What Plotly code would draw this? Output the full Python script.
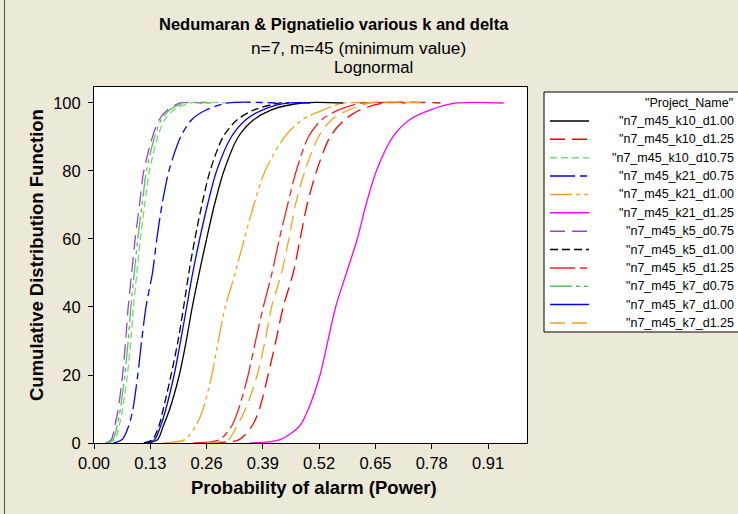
import plotly.graph_objects as go

# Cumulative percent levels at which each empirical CDF is sampled
# (the last two entries are where the curve first reaches 100 % and the sample maximum)
cdf_levels = [0, 1, 5, 10, 20, 30, 40, 50, 60, 70, 80, 90, 95, 98, 100, 100]

# Probability of alarm (power) at each cumulative level, one list per project
power_k10_d100 = [0.125, 0.147, 0.160, 0.175, 0.197, 0.213, 0.227, 0.243, 0.260, 0.278, 0.300, 0.333, 0.368, 0.410, 0.480, 0.576]
power_k10_d125 = [0.270, 0.335, 0.365, 0.382, 0.402, 0.420, 0.437, 0.460, 0.476, 0.492, 0.514, 0.545, 0.578, 0.615, 0.670, 0.800]
power_k10_d075 = [0.033, 0.048, 0.058, 0.066, 0.077, 0.085, 0.091, 0.099, 0.107, 0.117, 0.128, 0.147, 0.163, 0.185, 0.225, 0.307]
power_k21_d075 = [0.045, 0.065, 0.080, 0.090, 0.101, 0.110, 0.120, 0.135, 0.145, 0.157, 0.173, 0.200, 0.225, 0.260, 0.310, 0.420]
power_k21_d100 = [0.160, 0.210, 0.235, 0.252, 0.272, 0.287, 0.303, 0.326, 0.347, 0.369, 0.395, 0.440, 0.480, 0.530, 0.580, 0.640]
power_k21_d125 = [0.360, 0.430, 0.475, 0.495, 0.522, 0.540, 0.558, 0.583, 0.608, 0.628, 0.652, 0.690, 0.728, 0.777, 0.838, 0.946]
power_k5_d075 = [0.027, 0.040, 0.048, 0.056, 0.066, 0.073, 0.079, 0.087, 0.095, 0.105, 0.115, 0.135, 0.150, 0.170, 0.200, 0.250]
power_k5_d100 = [0.115, 0.135, 0.150, 0.160, 0.178, 0.194, 0.207, 0.219, 0.233, 0.249, 0.268, 0.298, 0.330, 0.370, 0.430, 0.450]
power_k5_d125 = [0.230, 0.290, 0.318, 0.334, 0.356, 0.373, 0.391, 0.411, 0.428, 0.447, 0.467, 0.495, 0.525, 0.565, 0.620, 0.720]
power_k7_d075 = [0.030, 0.044, 0.053, 0.061, 0.071, 0.079, 0.085, 0.093, 0.101, 0.111, 0.121, 0.140, 0.155, 0.175, 0.210, 0.270]
power_k7_d100 = [0.120, 0.140, 0.154, 0.166, 0.185, 0.200, 0.214, 0.228, 0.244, 0.262, 0.283, 0.317, 0.350, 0.390, 0.450, 0.500]
power_k7_d125 = [0.260, 0.310, 0.330, 0.350, 0.377, 0.395, 0.410, 0.433, 0.450, 0.465, 0.487, 0.518, 0.548, 0.588, 0.640, 0.770]

project_names = [
    '"n7_m45_k10_d1.00', '"n7_m45_k10_d1.25', '"n7_m45_k10_d10.75',
    '"n7_m45_k21_d0.75', '"n7_m45_k21_d1.00', '"n7_m45_k21_d1.25',
    '"n7_m45_k5_d0.75', '"n7_m45_k5_d1.00', '"n7_m45_k5_d1.25',
    '"n7_m45_k7_d0.75', '"n7_m45_k7_d1.00', '"n7_m45_k7_d1.25',
]
series_power = [
    power_k10_d100, power_k10_d125, power_k10_d075,
    power_k21_d075, power_k21_d100, power_k21_d125,
    power_k5_d075, power_k5_d100, power_k5_d125,
    power_k7_d075, power_k7_d100, power_k7_d125,
]

x_ticks = [0.00, 0.13, 0.26, 0.39, 0.52, 0.65, 0.78, 0.91]
y_ticks = [0, 20, 40, 60, 80, 100]

# Line styles per project
line_colors = ["#000000", "#FF0000", "#7FD27F", "#0000FF", "#FF9F1A", "#FF00FF",
               "#A040D0", "#000000", "#FF2020", "#50C850", "#0000FF", "#FF9F1A"]
line_dashes = ["solid", "15px,7px", "7px,4px", "25px,5px,7px,5px", "22px,4px,4px,4px,4px,4px", "solid",
               "15px,7px", "8px,4px", "25px,5px,7px,5px", "22px,4px,4px,4px,4px,4px", "solid", "15px,7px"]

FONT = "Liberation Sans, Arial, sans-serif"
W, H = 738, 514
L, R, T, B = 94, 527, 87, 443


def px(xp):
    return (xp - L) / (R - L)


def py(yp):
    return (B - yp) / (B - T)


fig = go.Figure()
for name, xs, col, dash in zip(project_names, series_power, line_colors, line_dashes):
    fig.add_trace(go.Scatter(
        x=xs, y=cdf_levels, mode="lines", name=name + '"', showlegend=False,
        line=dict(color=col, width=1.3, dash=dash, shape="spline", smoothing=0.8),
    ))

shapes = []
annotations = []

# window frame on the left
shapes.append(dict(type="line", xref="paper", yref="paper",
                   x0=px(4.5), x1=px(4.5), y0=py(0), y1=py(H),
                   line=dict(color="#555555", width=1)))

# legend box
shapes.append(dict(type="rect", xref="paper", yref="paper",
                   x0=px(544), x1=px(790), y0=py(92), y1=py(332),
                   fillcolor="white", line=dict(color="black", width=1)))
annotations.append(dict(text='"Project_Name"', xref="paper", yref="paper",
                        x=px(735), y=py(103), xanchor="right", yanchor="middle",
                        showarrow=False, font=dict(family=FONT, size=12.5, color="black")))
for i, (name, col, dash) in enumerate(zip(project_names, line_colors, line_dashes)):
    yc = 121 + i * 18.36
    shapes.append(dict(type="line", xref="paper", yref="paper",
                       x0=px(550), x1=px(589), y0=py(yc), y1=py(yc),
                       line=dict(color=col, width=1.5, dash=dash)))
    annotations.append(dict(text=name, xref="paper", yref="paper",
                            x=px(736), y=py(yc), xanchor="right", yanchor="middle",
                            showarrow=False, font=dict(family=FONT, size=12.5, color="black")))

# titles
annotations.append(dict(text="<b>Nedumaran & Pignatielio various k and delta</b>", xref="paper", yref="paper",
                        x=px(334), y=py(24), xanchor="center", yanchor="middle", showarrow=False,
                        font=dict(family=FONT, size=16.5, color="black")))
annotations.append(dict(text="n=7, m=45 (minimum value)", xref="paper", yref="paper",
                        x=px(358), y=py(48), xanchor="center", yanchor="middle", showarrow=False,
                        font=dict(family=FONT, size=17.3, color="black")))
annotations.append(dict(text="Lognormal", xref="paper", yref="paper",
                        x=px(373.5), y=py(68), xanchor="center", yanchor="middle", showarrow=False,
                        font=dict(family=FONT, size=16.8, color="black")))

# axis titles
annotations.append(dict(text="<b>Probability of alarm (Power)</b>", xref="paper", yref="paper",
                        x=px(314), y=py(487), xanchor="center", yanchor="middle", showarrow=False,
                        font=dict(family=FONT, size=18.5, color="black")))
annotations.append(dict(text="<b>Cumulative Distribution Function</b>", xref="paper", yref="paper",
                        x=px(36), y=py(255), xanchor="center", yanchor="middle", showarrow=False,
                        textangle=-90, font=dict(family=FONT, size=18.5, color="black")))

fig.update_layout(
    width=W, height=H, autosize=False,
    margin=dict(l=L, r=W - R, t=T, b=H - B, pad=0),
    paper_bgcolor="#ECE9D8", plot_bgcolor="white",
    showlegend=False,
    shapes=shapes, annotations=annotations,
    font=dict(family=FONT, size=16, color="black"),
)
fig.update_xaxes(
    range=[0, 1.0], tickvals=x_ticks, ticktext=[f"{v:.2f}" for v in x_ticks],
    showgrid=False, zeroline=False, showline=True, linecolor="black", linewidth=1, mirror=True,
    ticks="outside", ticklen=5, tickcolor="black", tickfont=dict(family=FONT, size=16.5),
)
fig.update_yaxes(
    range=[0, 104.7], tickvals=y_ticks,
    showgrid=False, zeroline=False, showline=True, linecolor="black", linewidth=1, mirror=True,
    ticks="outside", ticklen=5, tickcolor="black", tickfont=dict(family=FONT, size=16.5),
    ticklabelstandoff=4,
)

fig.write_html("out.html")
